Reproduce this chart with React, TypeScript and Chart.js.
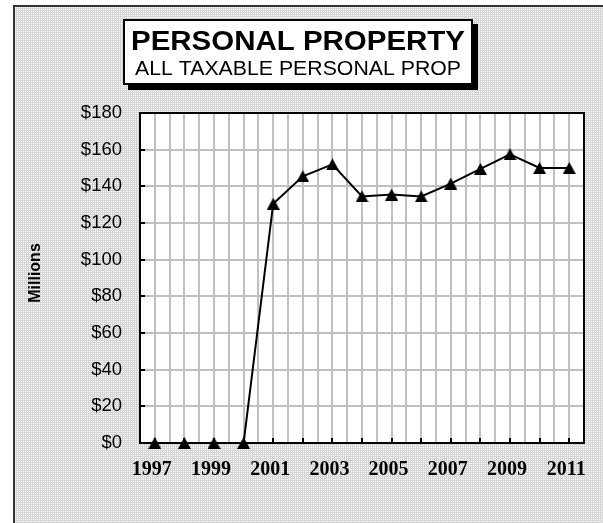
import { useEffect, useRef } from 'react';
import { Chart, registerables } from 'chart.js';

Chart.register(...registerables);

const years = [1997, 1998, 1999, 2000, 2001, 2002, 2003, 2004, 2005, 2006, 2007, 2008, 2009, 2010, 2011];
const values = [0, 0, 0, 0, 130.5, 145.5, 152, 134.5, 135.5, 134.5, 141.5, 149.5, 157.5, 150, 150];
const yMin = 0;
const yMax = 180;
const yStep = 20;
const titleText = 'PERSONAL PROPERTY';
const subtitleText = 'ALL TAXABLE PERSONAL PROP';
const yAxisTitle = 'Millions';

function makeTriangle(): HTMLCanvasElement {
  const c = document.createElement('canvas');
  c.width = 13;
  c.height = 12;
  const g = c.getContext('2d')!;
  g.fillStyle = '#000';
  g.beginPath();
  g.moveTo(6.5, 0);
  g.lineTo(13, 12);
  g.lineTo(0, 12);
  g.closePath();
  g.fill();
  return c;
}

function makePattern(ctx: CanvasRenderingContext2D) {
  const c = document.createElement('canvas');
  c.width = 2;
  c.height = 2;
  const g = c.getContext('2d')!;
  g.fillStyle = '#d6d6d6';
  g.fillRect(0, 0, 2, 2);
  g.fillStyle = '#ffffff';
  g.fillRect(1, 1, 1, 1);
  return ctx.createPattern(c, 'repeat');
}

function drawFit(ctx: CanvasRenderingContext2D, text: string, font: string, cx: number, baseline: number, targetW: number) {
  ctx.save();
  ctx.font = font;
  const w = ctx.measureText(text).width;
  ctx.translate(cx, baseline);
  ctx.scale(targetW / w, 1);
  ctx.textAlign = 'center';
  ctx.textBaseline = 'alphabetic';
  ctx.fillStyle = '#000';
  ctx.fillText(text, 0, 0);
  ctx.restore();
}

const decor = {
  id: 'decor',
  beforeDraw(chart: any) {
    const { ctx, width, height, chartArea: a } = chart;
    ctx.save();
    ctx.fillStyle = '#ffffff';
    ctx.fillRect(0, 0, width, height);
    const pat = makePattern(ctx);
    if (pat) ctx.fillStyle = pat;
    ctx.fillRect(13, 5, width, height);
    ctx.strokeStyle = '#333';
    ctx.lineWidth = 2;
    ctx.strokeRect(14, 6, width + 10, height + 10);
    ctx.fillStyle = '#ffffff';
    ctx.fillRect(a.left, a.top, a.right - a.left, a.bottom - a.top);
    ctx.restore();
  },
  beforeDatasetsDraw(chart: any) {
    const { ctx, chartArea: a, scales } = chart;
    ctx.save();
    ctx.strokeStyle = '#000';
    ctx.lineWidth = 2;
    ctx.strokeRect(a.left, a.top, a.right - a.left, a.bottom - a.top);
    ctx.beginPath();
    years.forEach((y) => {
      const px = Math.round(scales.x.getPixelForValue(y));
      ctx.moveTo(px, a.bottom);
      ctx.lineTo(px, a.bottom - 5);
    });
    for (let v = yMin; v <= yMax; v += yStep) {
      const py = Math.round(scales.y.getPixelForValue(v));
      ctx.moveTo(a.left, py);
      ctx.lineTo(a.left + 5, py);
    }
    ctx.stroke();
    ctx.restore();
  },
  afterDraw(chart: any) {
    const { ctx } = chart;
    ctx.save();
    ctx.fillStyle = '#000';
    ctx.fillRect(128, 24, 350, 66);
    ctx.fillStyle = '#fff';
    ctx.fillRect(123, 19, 350, 66);
    ctx.strokeStyle = '#000';
    ctx.lineWidth = 2;
    ctx.strokeRect(124, 20, 348, 64);
    ctx.restore();
    drawFit(ctx, titleText, 'bold 27px "Liberation Sans", Arial, sans-serif', 298, 49.5, 334);
    drawFit(ctx, subtitleText, '20px "Liberation Sans", Arial, sans-serif', 298, 75, 326);
    ctx.save();
    ctx.translate(40, 273);
    ctx.rotate(-Math.PI / 2);
    ctx.font = 'bold 16px "Liberation Sans", Arial, sans-serif';
    ctx.textAlign = 'center';
    ctx.textBaseline = 'alphabetic';
    ctx.fillStyle = '#000';
    ctx.fillText(yAxisTitle, 0, 0);
    ctx.restore();
  },
};

export default function App() {
  const ref = useRef<HTMLCanvasElement | null>(null);

  useEffect(() => {
    if (!ref.current) return;
    const tri = makeTriangle();
    const chart = new Chart(ref.current, {
      type: 'line',
      data: {
        datasets: [
          {
            data: years.map((y, i) => ({ x: y, y: values[i] })),
            borderColor: '#000',
            borderWidth: 2,
            pointStyle: tri as any,
            pointRadius: 6,
            pointHoverRadius: 6,
            tension: 0,
            fill: false,
            clip: false as any,
          },
        ],
      },
      options: {
        animation: false,
        responsive: false,
        devicePixelRatio: 1,
        layout: { padding: { top: 113, right: 19, left: 0, bottom: 0 } },
        plugins: {
          legend: { display: false },
          tooltip: { enabled: false },
          title: { display: false },
        },
        scales: {
          x: {
            type: 'linear',
            min: 1996.5,
            max: 2011.5,
            afterFit: (s: any) => {
              s.height = 80;
            },
            grid: { color: '#c0c0c0', lineWidth: 2, drawTicks: false },
            border: { display: false },
            ticks: {
              stepSize: 0.5,
              maxTicksLimit: 100,
              autoSkip: false,
              maxRotation: 0,
              minRotation: 0,
              padding: 15,
              labelOffset: -3,
              color: '#000',
              font: { family: '"Liberation Serif", "Times New Roman", serif', size: 20, weight: 'bold' },
              callback: (v: any) => {
                const n = Number(v);
                return Number.isInteger(n) && n % 2 === 1 ? String(n) : '';
              },
            },
          },
          y: {
            min: yMin,
            max: yMax,
            afterFit: (s: any) => {
              s.width = 140;
            },
            grid: { color: '#c0c0c0', lineWidth: 2, drawTicks: false },
            border: { display: false },
            ticks: {
              stepSize: yStep,
              padding: 18,
              color: '#000',
              font: { family: '"Liberation Sans", Arial, sans-serif', size: 18.5 },
              callback: (v: any) => '$' + v,
            },
          },
        },
      },
      plugins: [decor],
    });
    return () => chart.destroy();
  }, []);

  return (
    <div style={{ position: 'fixed', left: 0, top: 0, width: 603, height: 523 }}>
      <canvas ref={ref} width={603} height={523} />
    </div>
  );
}
